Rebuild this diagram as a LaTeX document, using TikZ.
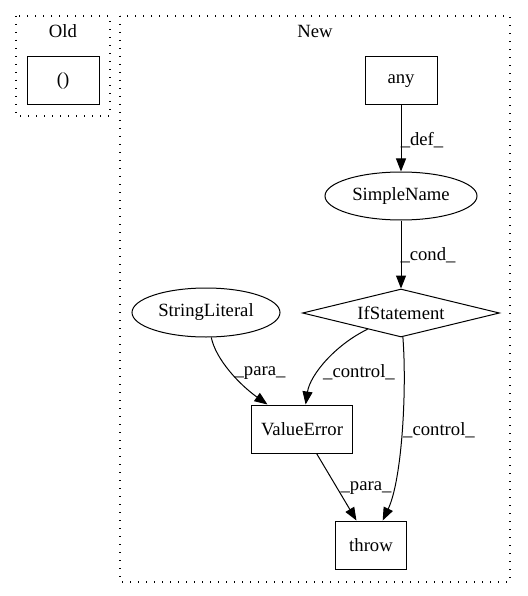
\documentclass[tikz,border=0pt]{standalone}
\usepackage{fontspec}
\setmainfont{Liberation Serif}
\usetikzlibrary{shapes.geometric,arrows.meta}
\begin{document}
\begin{tikzpicture}[x=1pt,y=-1pt,
  every node/.style={font=\fontsize{18.67}{22}\selectfont, inner sep=0pt},
  box/.style={draw, line width=1pt, rectangle},
  ell/.style={draw, line width=1pt, ellipse},
  dia/.style={draw, line width=1pt, diamond, aspect=4},
  cluster/.style={draw, line width=1.2pt, dash pattern=on 1.2pt off 6.8pt},
  edge/.style={line width=1pt, -{Triangle[length=13pt,width=10pt]}},
  lbl/.style={fill=none}
]
\useasboundingbox (0,0) rectangle (527,596);
% clusters
\draw[cluster] (16,16) rectangle (110,116);
\node (oldlbl) at (63,31) {Old};
\draw[cluster] (120,16) rectangle (510,582);
\node (newlbl) at (315,31) {New};
% nodes
\node[box, minimum width=72pt, minimum height=48pt] (old) at (63,81) {()};
\node[box, minimum width=72pt, minimum height=48pt] (any) at (401,81) {any};
\node[ell, minimum width=152pt, minimum height=48pt] (sn) at (401,196) {SimpleName};
\node[dia, minimum width=197pt, minimum height=48pt] (ifs) at (401,313) {IfStatement};
\node[ell, minimum width=148pt, minimum height=49pt] (sl) at (206,312.5) {StringLiteral};
\node[box, minimum width=101pt, minimum height=48pt] (ve) at (302,429) {ValueError};
\node[box, minimum width=71pt, minimum height=48pt] (th) at (371,545) {throw};
% edges
\draw[edge] (any) -- (sn);
\draw[edge] (sn) -- (ifs);
\draw[edge] (sl) .. controls (216,360) and (240,385) .. (ve);
\draw[edge] (ifs) .. controls (335,345) and (310,375) .. (ve);
\draw[edge] (ifs) .. controls (407,390) and (402,480) .. (th);
\draw[edge] (ve) -- (th);
% labels
\node (l1) at (422,140) {\_def\_};
\node (l2) at (428,255) {\_cond\_};
\node (l3) at (260,373) {\_para\_};
\node (l4) at (359,372) {\_control\_};
\node (l5) at (439,430) {\_control\_};
\node (l6) at (366,488) {\_para\_};
\end{tikzpicture}
\end{document}
